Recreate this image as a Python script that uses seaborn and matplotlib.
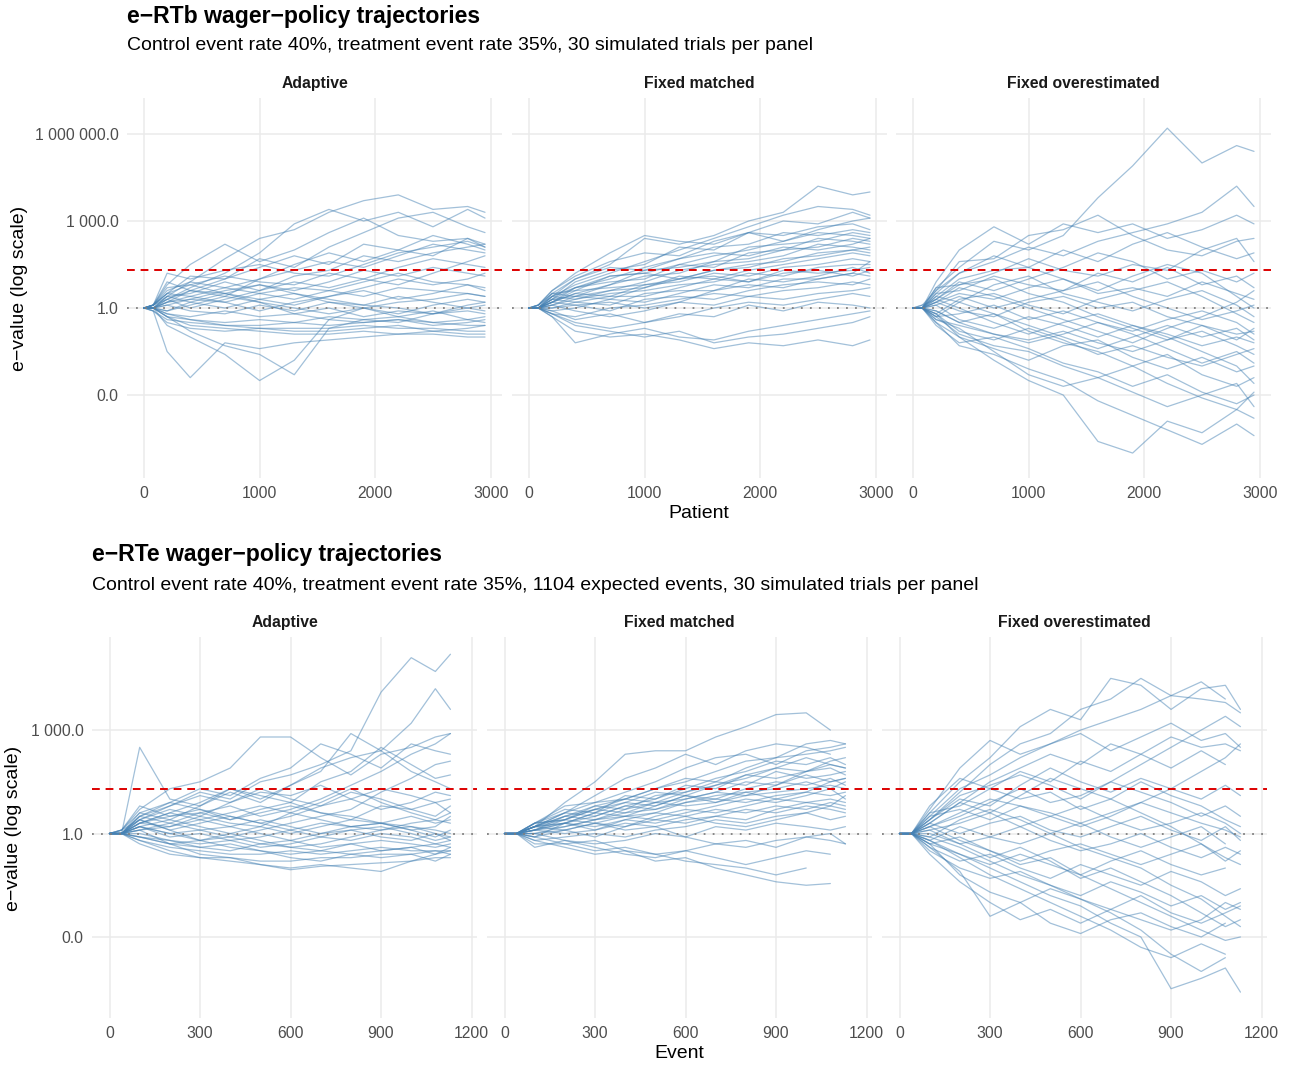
import numpy as np
import pandas as pd
import seaborn as sns
import matplotlib.pyplot as plt
from matplotlib.ticker import FixedLocator, FuncFormatter

nan = float("nan")

patients = [0, 80, 200, 400, 700, 1000, 1300, 1600, 1900, 2200, 2500, 2800, 2950]
events = [0, 40, 100, 200, 300, 400, 500, 600, 700, 800, 900, 1000, 1080, 1130]

panels = ["Adaptive", "Fixed matched", "Fixed overestimated"]

# log10(e-value) per simulated trial, one row per trial
rtb_adaptive = [
    [0, 0, 0.4, 0.9, 1.7, 2.4, 2.7, 3.3, 3.7, 3.9, 3.4, 3.5, 3.3],
    [0, 0, 0.3, 0.7, 1.2, 1.9, 2.9, 3.4, 3.0, 3.3, 2.8, 3.4, 3.1],
    [0, 0.1, 0.8, 1.5, 2.2, 1.6, 2.0, 2.6, 3.1, 2.5, 2.3, 2.4, 2.1],
    [0, 0.1, 0.5, 1.1, 1.0, 1.7, 1.4, 2.1, 2.6, 3.1, 3.3, 2.8, 2.6],
    [0, 0, 0.2, 0.6, 1.0, 1.4, 1.8, 1.5, 2.2, 2.0, 2.5, 2.2, 2.0],
    [0, 0.1, 1.2, 1.0, 1.3, 1.5, 1.2, 1.1, 1.5, 1.9, 2.1, 2.3, 2.1],
    [0, 0.1, 0.6, 0.9, 0.7, 1.0, 1.3, 1.6, 1.4, 1.8, 2.2, 2.0, 1.9],
    [0, 0, 0.4, 0.5, 0.9, 0.6, 1.1, 1.3, 1.8, 1.6, 1.9, 2.1, 2.2],
    [0, 0.1, 0.7, 0.8, 1.1, 0.9, 0.8, 1.2, 1.0, 1.4, 1.7, 1.5, 1.4],
    [0, 0, 0.3, 0.6, 0.5, 0.8, 0.6, 0.9, 1.3, 1.1, 1.4, 1.2, 1.1],
    [0, 0.1, 0.5, 0.4, 0.7, 0.5, 0.7, 0.6, 0.9, 1.2, 0.9, 0.8, 0.7],
    [0, 0, 0.2, 0.3, 0.2, 0.5, 0.3, 0.6, 0.4, 0.7, 0.6, 0.5, 0.4],
    [0, 0.1, 0.4, 0.2, 0.5, 0.3, 0.1, 0.4, 0.6, 0.3, 0.5, 0.8, 0.6],
    [0, 0, -0.1, 0.2, 0.0, 0.3, 0.5, 0.2, 0.1, 0.4, 0.2, 0.0, 0.1],
    [0, 0, 0.1, -0.1, -0.2, 0.1, -0.1, 0.2, 0.0, -0.2, 0.1, 0.3, 0.2],
    [0, 0, -0.2, -0.3, -0.1, -0.3, -0.2, 0.0, -0.3, -0.1, -0.2, -0.1, -0.2],
    [0, 0, -0.3, -0.4, -0.5, -0.4, -0.5, -0.3, -0.4, -0.3, -0.5, -0.4, -0.3],
    [0, -0.1, -0.4, -0.5, -0.6, -0.7, -0.7, -0.7, -0.6, -0.7, -0.7, -0.8, -0.8],
    [0, 0, -0.3, -0.6, -0.7, -0.8, -0.9, -0.9, -0.8, -0.9, -0.9, -1.0, -1.0],
    [0, -0.1, -0.5, -0.7, -0.8, -0.7, -0.8, -0.8, -0.7, -0.6, -0.8, -0.7, -0.6],
    [0, 0, -0.2, -0.4, -0.6, -0.6, -0.5, -0.6, -0.5, -0.4, -0.6, -0.5, -0.4],
    [0, -0.1, -1.5, -2.4, -1.2, -1.4, -1.2, -1.1, -1.0, -0.9, -0.8, -0.9, -0.9],
    [0, 0, -0.6, -1.0, -1.6, -2.5, -1.8, -0.4, 0.0, 0.2, 0.3, 0.5, 0.4],
    [0, 0, -0.3, -0.8, -1.3, -1.6, -2.3, -0.7, -0.4, -0.5, -0.2, 0.1, 0.2],
    [0, 0.1, 0.3, 0.0, 0.3, 0.6, 0.9, 0.7, 1.0, 0.8, 1.2, 1.6, 1.8],
    [0, 0, 0.2, 0.4, 0.2, -0.1, 0.2, 0.4, 0.7, 1.0, 0.8, 1.0, 1.2],
    [0, 0.1, 0.9, 0.6, 0.4, 0.2, 0.0, -0.2, 0.0, -0.3, -0.1, -0.4, -0.5],
    [0, 0, 0.1, 0.3, 0.6, 0.8, 0.5, 0.3, 0.1, 0.0, -0.2, 0.0, -0.1],
    [0, 0, -0.1, 0.1, 0.4, 1.0, 1.5, 1.9, 1.6, 2.0, 1.8, 2.4, 2.2],
    [0, 0.1, 0.5, 0.8, 0.5, 0.2, -0.2, -0.4, -0.5, -0.4, -0.5, -0.6, -0.6],
]

rtb_matched = [
    [0, 0, 0.5, 1.0, 1.5, 2.4, 2.2, 2.5, 3.0, 3.3, 4.2, 3.9, 4.0],
    [0, 0, 0.4, 0.8, 1.2, 1.6, 2.0, 2.4, 2.8, 3.2, 3.5, 3.4, 3.2],
    [0, 0.1, 0.6, 1.1, 1.6, 1.9, 1.8, 2.3, 2.6, 3.0, 2.9, 3.3, 3.1],
    [0, 0, 0.3, 0.9, 1.3, 1.5, 2.1, 2.0, 2.6, 2.5, 2.8, 2.9, 2.7],
    [0, 0, 0.4, 0.7, 1.0, 1.4, 1.7, 2.1, 2.2, 2.6, 2.5, 2.7, 2.6],
    [0, 0.1, 0.5, 0.6, 1.1, 1.2, 1.5, 1.8, 2.0, 2.3, 2.6, 2.5, 2.4],
    [0, 0, 0.2, 0.5, 0.8, 1.3, 1.4, 1.6, 2.1, 2.2, 2.3, 2.6, 2.5],
    [0, 0, 0.3, 0.7, 0.9, 1.0, 1.5, 1.4, 1.9, 2.0, 2.4, 2.3, 2.2],
    [0, 0.1, 0.5, 0.4, 0.8, 1.1, 1.2, 1.6, 1.7, 2.0, 2.1, 2.4, 2.3],
    [0, 0, 0.1, 0.4, 0.6, 0.9, 1.3, 1.5, 1.6, 1.8, 2.2, 2.1, 2.0],
    [0, 0, 0.2, 0.6, 0.7, 0.8, 1.0, 1.3, 1.4, 1.7, 1.8, 2.0, 2.1],
    [0, 0.1, 0.4, 0.3, 0.6, 0.7, 1.1, 1.0, 1.3, 1.5, 1.7, 1.9, 1.8],
    [0, 0, 0.2, 0.5, 0.4, 0.8, 0.9, 1.2, 1.1, 1.4, 1.5, 1.7, 1.6],
    [0, 0, 0.1, 0.3, 0.5, 0.6, 0.8, 0.9, 1.2, 1.1, 1.4, 1.5, 1.5],
    [0, 0, 0.3, 0.2, 0.4, 0.4, 0.7, 1.0, 0.9, 1.3, 1.2, 1.3, 1.4],
    [0, 0, 0.0, 0.2, 0.1, 0.5, 0.6, 0.6, 1.0, 0.9, 1.1, 1.4, 1.2],
    [0, 0, -0.1, 0.0, 0.3, 0.2, 0.5, 0.8, 0.7, 1.0, 1.0, 1.2, 1.1],
    [0, 0, 0.2, 0.1, -0.1, 0.3, 0.4, 0.3, 0.6, 0.8, 0.9, 0.8, 1.0],
    [0, 0, -0.2, -0.3, 0.0, 0.1, 0.3, 0.5, 0.4, 0.6, 0.7, 0.9, 0.8],
    [0, 0, 0.1, -0.1, -0.3, -0.1, 0.2, 0.1, 0.4, 0.3, 0.5, 0.6, 0.7],
    [0, 0, -0.1, -0.4, -0.2, -0.5, -0.3, 0.0, 0.2, 0.1, 0.3, 0.5, 0.4],
    [0, 0, -0.2, -0.5, -0.7, -0.5, -0.2, -0.3, 0.1, -0.1, 0.2, 0.1, 0.0],
    [0, 0, -0.3, -1.2, -0.9, -0.7, -1.0, -1.1, -0.8, -0.6, -0.4, -0.2, -0.1],
    [0, 0, -0.3, -0.8, -1.0, -0.9, -1.1, -1.4, -1.2, -1.3, -1.1, -1.3, -1.1],
    [0, 0, -0.2, -0.6, -0.8, -1.0, -0.8, -1.2, -1.0, -0.9, -0.7, -0.5, -0.3],
    [0, 0.1, 0.6, 1.2, 1.9, 2.5, 2.3, 2.2, 2.6, 2.3, 2.7, 3.0, 3.1],
    [0, 0, 0.4, 1.0, 1.4, 1.3, 1.7, 1.9, 1.8, 2.1, 2.0, 2.2, 2.4],
    [0, 0, 0.2, 0.7, 1.1, 1.2, 1.0, 1.3, 1.5, 1.6, 1.9, 2.0, 1.9],
    [0, 0, 0.3, 0.4, 0.3, 0.7, 1.0, 1.1, 0.9, 1.2, 1.3, 1.1, 1.3],
    [0, 0, 0.0, 0.1, 0.2, 0.0, 0.2, 0.6, 0.8, 0.7, 1.0, 1.2, 1.6],
]

rtb_over = [
    [0, 0, 0.7, 1.4, 2.3, 2.0, 2.5, 3.8, 4.9, 6.2, 5.0, 5.6, 5.4],
    [0, 0, 0.5, 1.2, 1.6, 2.1, 1.8, 2.3, 2.6, 2.9, 3.3, 4.2, 3.5],
    [0, 0, 0.9, 2.0, 2.8, 2.2, 2.9, 2.6, 2.9, 2.4, 2.7, 3.2, 2.9],
    [0, 0.1, 0.6, 1.6, 1.7, 2.5, 2.7, 3.2, 2.5, 2.0, 1.8, 2.3, 2.4],
    [0, 0, 0.4, 1.0, 1.3, 1.4, 2.0, 1.6, 2.2, 2.6, 2.1, 1.7, 1.9],
    [0, 0, 0.7, 0.8, 1.2, 1.7, 1.3, 1.1, 1.5, 1.3, 2.0, 2.4, 1.6],
    [0, 0.1, 0.3, 0.9, 0.6, 1.0, 1.4, 1.9, 1.6, 1.0, 1.3, 0.9, 1.2],
    [0, 0, 0.5, 0.6, 1.1, 0.8, 0.6, 1.2, 0.9, 1.4, 0.8, 1.1, 0.7],
    [0, 0, 0.2, 0.5, 0.3, 0.7, 1.0, 0.5, 0.7, 0.4, 0.9, 0.5, 0.3],
    [0, 0, 0.4, 0.2, 0.8, 1.1, 0.5, 0.2, -0.1, 0.3, 0.6, 0.1, -0.3],
    [0, 0, 0.1, 0.4, 0.0, 0.3, 0.6, 0.9, 0.4, 0.0, -0.4, -0.1, 0.1],
    [0, 0, -0.2, 0.3, 0.5, 0.1, -0.2, 0.3, 0.6, 0.9, 0.4, -0.2, -0.5],
    [0, 0, 0.2, -0.1, -0.3, 0.2, 0.4, 0.0, 0.2, -0.3, -0.6, -0.9, -0.8],
    [0, 0, -0.3, -0.2, 0.1, -0.4, -0.1, -0.5, -0.8, -0.4, -0.1, -0.5, -0.9],
    [0, 0, 0.1, -0.4, -0.7, -0.3, -0.6, -1.0, -0.6, -0.9, -1.3, -1.0, -1.2],
    [0, 0, -0.4, -0.6, -0.9, -1.1, -0.8, -1.2, -1.5, -1.1, -0.8, -1.3, -1.6],
    [0, 0, -0.2, -0.8, -1.1, -0.7, -1.1, -1.6, -1.3, -1.7, -2.0, -1.6, -1.4],
    [0, 0, -0.5, -1.0, -1.4, -1.8, -1.3, -1.1, -1.7, -2.1, -1.7, -2.2, -2.0],
    [0, 0, -0.3, -0.9, -1.3, -1.5, -2.0, -2.4, -2.0, -1.6, -2.3, -2.7, -2.4],
    [0, 0, -0.6, -1.2, -1.0, -1.4, -1.9, -2.2, -2.7, -2.3, -2.9, -3.3, -3.0],
    [0, 0, -0.4, -0.7, -1.5, -2.3, -2.7, -2.4, -2.9, -3.4, -3.0, -2.6, -3.4],
    [0, 0, -0.2, -1.0, -1.8, -2.5, -3.0, -4.6, -5.0, -3.9, -4.3, -3.5, -3.8],
    [0, 0, -0.5, -1.3, -1.6, -2.1, -2.5, -3.2, -3.7, -4.2, -4.7, -4.0, -4.4],
    [0, 0, -0.1, -0.5, -0.2, -0.8, -1.2, -1.5, -2.0, -2.6, -3.1, -3.5, -2.9],
    [0, 0, 0.3, 0.0, -0.5, -0.9, -0.5, -0.2, -0.6, -1.0, -1.5, -2.0, -2.6],
    [0, 0, 0.6, 1.2, 1.8, 1.4, 1.0, 0.6, 1.1, 1.5, 1.2, 0.4, 0.0],
    [0, 0, 0.2, 0.7, 0.4, 0.0, -0.4, -0.8, -1.2, -0.7, -0.3, 0.2, 0.6],
    [0, 0, -0.1, -0.5, -0.9, -1.2, -0.9, -0.5, -0.9, -1.4, -1.9, -1.5, -1.9],
    [0, 0, 0.3, 0.8, 1.0, 0.5, 0.2, -0.3, -0.7, -1.1, -0.6, -1.1, -0.7],
    [0, 0, -0.3, 0.2, -0.2, -0.6, -1.0, -1.4, -1.0, -0.6, -1.0, -0.7, -1.1],
]

rte_adaptive = [
    [0, 0, 0.4, 0.8, 1.2, 1.0, 1.5, 1.7, 2.0, 2.4, 4.1, 5.1, 4.7, 5.2],
    [0, 0, 0.3, 0.6, 0.9, 1.3, 1.0, 1.4, 1.9, 2.2, 2.4, 3.2, 4.2, 3.6],
    [0, 0.1, 0.7, 1.3, 1.5, 1.9, 2.8, 2.8, 2.2, 1.7, 2.3, 2.5, 2.8, 2.9],
    [0, 0, 2.5, 1.0, 0.8, 1.2, 0.9, 1.4, 1.8, 2.9, 2.4, 1.8, 1.5, 1.3],
    [0, 0, 0.5, 0.9, 1.3, 1.1, 1.6, 1.9, 2.6, 2.3, 1.9, 2.6, 2.4, 2.3],
    [0, 0.1, 0.6, 0.4, 0.8, 1.3, 1.1, 0.9, 1.5, 1.8, 2.5, 2.0, 1.6, 1.7],
    [0, 0, 0.4, 0.7, 0.5, 0.9, 1.3, 1.0, 0.8, 1.2, 1.0, 0.7, 0.9, 0.6],
    [0, 0.1, 0.8, 0.5, 0.6, 0.4, 0.7, 0.9, 0.6, 0.4, 0.3, 0.5, 0.3, 0.4],
    [0, 0, 0.3, 0.2, 0.5, 0.3, 0.2, 0.6, 0.4, 0.2, 0.1, 0.2, 0.1, 0.0],
    [0, 0, 0.5, 0.3, 0.1, 0.2, 0.4, 0.2, 0.0, 0.2, 0.3, 0.1, -0.1, 0.1],
    [0, 0, 0.2, -0.1, 0.0, -0.2, -0.1, 0.1, 0.3, 0.2, 0.3, 0.1, 0.2, 0.5],
    [0, 0, -0.1, -0.2, -0.3, -0.2, -0.4, -0.3, -0.1, 0.1, 0.2, 0.0, -0.2, -0.1],
    [0, 0, 0.1, -0.3, -0.4, -0.5, -0.3, -0.4, -0.5, -0.3, -0.2, -0.3, -0.4, -0.3],
    [0, 0, -0.2, -0.4, -0.5, -0.6, -0.6, -0.5, -0.6, -0.5, -0.4, -0.5, -0.5, -0.5],
    [0, 0, -0.2, -0.5, -0.7, -0.7, -0.8, -0.8, -0.7, -0.7, -0.6, -0.6, -0.5, -0.6],
    [0, 0, -0.3, -0.6, -0.7, -0.8, -0.9, -1.0, -0.9, -1.0, -1.1, -0.8, -0.6, -0.4],
    [0, 0, -0.1, -0.3, -0.6, -0.7, -0.9, -1.05, -0.95, -0.9, -0.85, -0.8, -0.7, -0.7],
    [0, 0, 0.2, 0.0, -0.2, -0.4, -0.5, -0.6, -0.5, -0.6, -0.5, -0.4, -0.3, -0.2],
    [0, 0.1, 0.4, 0.1, 0.3, 0.5, 0.3, 0.5, 0.8, 1.0, 0.7, 0.9, 1.2, 1.1],
    [0, 0, 0.3, 0.5, 0.7, 0.4, 0.6, 0.8, 0.6, 0.5, 0.3, 0.2, 0.0, -0.2],
    [0, 0, 0.1, 0.2, 0.4, 0.6, 0.8, 0.6, 0.9, 1.3, 0.9, 0.6, 0.4, 0.3],
    [0, 0, 0.6, 0.9, 0.7, 0.5, 0.3, 0.1, -0.1, -0.2, 0.0, -0.1, -0.3, -0.4],
    [0, 0, 0.4, 0.1, -0.2, -0.1, 0.1, 0.3, 0.5, 0.7, 1.2, 1.6, 2.0, 2.1],
    [0, 0, -0.1, -0.3, -0.2, 0.0, 0.2, 0.0, 0.2, 0.4, 0.8, 0.7, 0.5, 0.8],
    [0, 0, 0.2, 0.0, 0.1, -0.1, -0.3, -0.2, 0.0, 0.1, -0.1, -0.2, 0.0, -0.1],
    [0, 0, 0.3, 0.6, 0.4, 0.2, 0.0, -0.2, -0.4, -0.3, -0.5, -0.4, -0.6, -0.5],
    [0, 0, 0.5, 0.8, 1.1, 0.9, 1.2, 1.1, 1.4, 1.0, 1.3, 1.1, 0.9, 1.0],
    [0, 0, 0.1, 0.3, 0.6, 0.8, 0.5, 0.7, 1.0, 1.4, 1.8, 2.3, 2.6, 2.9],
    [0, 0, 0.2, 0.4, 0.2, 0.0, -0.2, -0.4, -0.3, -0.1, 0.1, 0.3, 0.4, 0.6],
    [0, 0, 0.0, -0.2, -0.4, -0.3, -0.5, -0.7, -0.8, -0.6, -0.7, -0.6, -0.8, -0.6],
]

rte_matched = [
    [0, 0, 0.2, 0.9, 1.5, 2.3, 2.4, 2.4, 2.8, 3.1, 3.45, 3.5, 3.0, nan],
    [0, 0, 0.3, 0.6, 0.9, 1.2, 1.5, 1.9, 2.2, 2.3, 2.0, 2.4, 2.5, 2.6],
    [0, 0, 0.2, 0.5, 0.8, 1.0, 1.3, 1.5, 1.8, 2.1, 2.2, 2.3, 2.4, 2.5],
    [0, 0, 0.3, 0.7, 0.6, 1.1, 1.0, 1.3, 1.6, 1.8, 2.1, 2.0, 2.2, 2.0],
    [0, 0, 0.1, 0.4, 0.7, 0.9, 1.2, 1.1, 1.4, 1.6, 1.9, 2.2, 2.0, 1.9],
    [0, 0, 0.2, 0.6, 0.5, 0.8, 1.0, 1.4, 1.3, 1.7, 1.6, 1.8, 1.9, 1.7],
    [0, 0, 0.3, 0.4, 0.8, 0.7, 1.1, 1.2, 1.5, 1.4, 1.8, 1.6, 1.7, 1.8],
    [0, 0, 0.1, 0.5, 0.4, 0.6, 0.9, 1.0, 1.2, 1.5, 1.4, 1.7, 1.5, 1.6],
    [0, 0, 0.2, 0.3, 0.6, 0.9, 0.8, 1.1, 1.0, 1.3, 1.5, 1.4, 1.6, 1.4],
    [0, 0, 0.2, 0.5, 0.7, 0.6, 0.7, 0.9, 1.1, 1.2, 1.3, 1.5, 1.3, 1.5],
    [0, 0, 0.1, 0.2, 0.4, 0.7, 0.9, 0.8, 0.9, 1.1, 1.2, 1.3, 1.4, 1.3],
    [0, 0, 0.3, 0.4, 0.3, 0.5, 0.6, 0.9, 1.0, 0.9, 1.1, 1.2, 1.1, 1.2],
    [0, 0, 0.0, 0.2, 0.4, 0.5, 0.4, 0.6, 0.8, 1.0, 0.9, 1.1, 1.3, 1.0],
    [0, 0, 0.2, 0.1, 0.3, 0.2, 0.5, 0.7, 0.6, 0.8, 1.0, 0.9, 1.0, 0.9],
    [0, 0, -0.1, 0.3, 0.2, 0.4, 0.3, 0.5, 0.7, 0.6, 0.8, 0.7, 0.9, 0.8],
    [0, 0, 0.1, 0.0, 0.1, 0.3, 0.2, 0.4, 0.5, 0.7, 0.6, 0.8, 0.7, 0.6],
    [0, 0, -0.2, -0.1, 0.0, -0.1, 0.1, 0.2, 0.4, 0.3, 0.5, 0.6, 0.4, 0.5],
    [0, 0, 0.0, -0.2, -0.3, -0.2, 0.0, -0.1, 0.2, 0.1, 0.3, 0.2, 0.1, 0.2],
    [0, 0, -0.3, -0.3, -0.5, -0.4, -0.6, -0.5, -0.3, -0.4, -0.2, -0.1, -0.2, -0.3],
    [0, 0, -0.4, -0.2, -0.4, -0.6, -0.7, -0.5, -0.7, -0.9, -0.7, -0.5, -0.6, nan],
    [0, 0, -0.2, -0.4, -0.6, -0.5, -0.8, -0.7, -1.0, -1.2, -1.4, -1.5, -1.45, nan],
    [0, 0, -0.1, -0.3, -0.2, -0.5, -0.6, -0.8, -0.9, -1.0, -1.2, -1.0, nan, nan],
    [0, 0, 0.2, 0.6, 1.1, 1.6, 1.9, 2.3, 2.0, 2.4, 2.6, 2.5, 2.3, nan],
    [0, 0, 0.3, 0.8, 0.9, 1.0, 1.3, 1.6, 1.5, 1.9, 2.2, 2.6, 2.7, 2.6],
    [0, 0, 0.1, 0.3, 0.5, 0.8, 0.7, 1.0, 1.2, 1.1, 1.4, 1.8, 2.0, 1.9],
    [0, 0, 0.2, 0.3, 0.1, 0.4, 0.6, 0.5, 0.3, 0.2, 0.4, 0.6, 0.8, 1.1],
    [0, 0, -0.1, 0.1, 0.3, 0.1, 0.2, -0.1, -0.3, -0.2, -0.4, -0.1, 0.0, -0.3],
    [0, 0, 0.1, 0.3, 0.6, 0.5, 0.8, 1.1, 0.9, 1.2, 1.0, 1.2, 1.5, 1.6],
    [0, 0, 0.2, 0.4, 0.7, 1.0, 0.9, 1.2, 1.4, 1.7, 1.9, 1.8, 2.1, 2.2],
    [0, 0, 0.0, 0.1, -0.1, 0.2, 0.4, 0.3, 0.5, 0.4, 0.7, 0.9, 0.8, 0.7],
]

rte_over = [
    [0, 0, 0.6, 1.5, 2.2, 3.1, 3.6, 3.3, 4.5, 4.3, 3.6, 4.2, 4.3, 3.6],
    [0, 0, 0.4, 1.2, 2.0, 2.6, 2.9, 3.6, 3.9, 4.5, 4.0, 3.9, 3.8, 3.5],
    [0, 0, 0.7, 1.9, 2.7, 2.3, 2.6, 3.0, 3.3, 3.6, 4.0, 4.4, 3.9, nan],
    [0, 0, 0.5, 1.3, 1.7, 2.2, 2.6, 2.9, 2.4, 2.8, 3.2, 2.7, 2.9, 2.5],
    [0, 0, 0.3, 0.9, 1.5, 1.9, 2.3, 2.0, 2.6, 2.3, 2.8, 2.5, 2.6, 2.4],
    [0, 0, 0.8, 1.6, 1.3, 1.8, 1.5, 2.1, 1.8, 2.3, 1.9, 2.4, 2.0, nan],
    [0, 0, 0.4, 1.0, 0.8, 1.4, 1.9, 1.5, 1.2, 1.6, 1.3, 1.0, 1.4, 1.1],
    [0, 0, 0.6, 0.8, 1.3, 1.0, 1.2, 0.7, 1.0, 1.5, 1.1, 0.8, 0.4, 0.2],
    [0, 0, 0.2, 0.5, 0.9, 1.3, 0.9, 1.1, 1.5, 1.2, 0.9, 0.5, 0.8, 0.5],
    [0, 0, 0.5, 0.7, 0.4, 0.8, 0.6, 0.3, 0.6, 0.9, 0.6, 0.3, 0.1, -0.1],
    [0, 0, 0.1, 0.3, 0.6, 0.2, 0.5, 0.8, 0.4, 0.1, 0.3, 0.6, 0.3, 0.0],
    [0, 0, 0.3, 0.0, 0.3, 0.5, 0.1, -0.1, 0.2, 0.5, 0.1, -0.2, 0.2, -0.2],
    [0, 0, -0.2, 0.2, -0.1, -0.3, 0.0, 0.3, -0.1, -0.4, -0.1, 0.2, -0.3, nan],
    [0, 0, 0.0, -0.3, -0.1, 0.2, -0.2, -0.5, -0.3, 0.0, -0.4, -0.7, -0.4, -0.6],
    [0, 0, -0.3, -0.1, -0.5, -0.8, -0.5, -0.3, -0.6, -0.9, -0.6, -0.3, -0.7, -0.9],
    [0, 0, -0.2, -0.6, -0.9, -0.6, -0.9, -1.2, -0.8, -0.5, -0.9, -1.2, -1.0, nan],
    [0, 0, -0.4, -0.8, -0.6, -1.0, -1.3, -0.9, -1.2, -1.5, -1.1, -1.4, -1.8, -1.6],
    [0, 0, -0.5, -1.0, -1.3, -1.1, -1.5, -1.8, -1.4, -1.7, -2.1, -1.8, -2.2, -2.0],
    [0, 0, -0.3, -1.2, -1.7, -2.0, -1.6, -1.9, -2.2, -1.8, -2.3, -2.6, -2.3, -2.1],
    [0, 0, -0.6, -1.4, -2.0, -2.5, -2.2, -2.6, -2.2, -2.5, -2.8, -2.5, -2.0, -2.2],
    [0, 0, -0.4, -1.1, -2.4, -2.0, -2.6, -2.9, -2.5, -2.3, -2.7, -3.0, -2.6, nan],
    [0, 0, -0.2, -0.7, -1.2, -1.6, -2.0, -2.4, -2.8, -3.3, -3.6, -3.2, -3.5, nan],
    [0, 0, -0.3, -0.6, -1.0, -1.4, -1.8, -2.1, -2.6, -3.0, -4.5, -4.2, -3.9, -4.6],
    [0, 0, -0.1, -0.4, -0.8, -1.2, -1.5, -1.9, -2.3, -2.8, -3.5, -4.0, -3.6, nan],
    [0, 0, 0.2, -0.2, -0.5, -0.9, -0.7, -1.2, -1.6, -2.0, -2.4, -2.8, -3.1, -3.0],
    [0, 0, 0.2, 0.6, 1.0, 0.8, 0.5, 0.2, 0.5, 0.9, 1.3, 1.8, 2.2, 2.6],
    [0, 0, 0.4, 1.1, 1.4, 1.7, 1.4, 1.0, 1.5, 2.0, 2.5, 3.0, 3.4, 3.1],
    [0, 0, -0.1, 0.4, 0.7, 0.4, 0.0, -0.4, -0.7, -1.0, -1.5, -1.9, -2.4, -2.7],
    [0, 0, 0.1, -0.3, -0.7, -0.4, -0.8, -1.3, -1.0, -1.4, -1.8, -2.3, -2.7, -2.5],
    [0, 0, 0.3, 0.9, 0.6, 1.1, 1.6, 1.3, 1.0, 0.6, 0.2, -0.3, -0.8, -0.5],
]


def to_long(xs, rows):
    recs = []
    for i, row in enumerate(rows):
        for x, v in zip(xs, row):
            if v == v:
                recs.append((i, x, 10 ** v))
    return pd.DataFrame(recs, columns=["trial", "x", "evalue"])


def fmt_e(v, pos):
    return f"{v:,.1f}".replace(",", " ")


sns.set_theme(style="white")
plt.rcParams["font.family"] = ["Liberation Sans", "DejaVu Sans"]
plt.rcParams["text.color"] = "black"

W, H = 1291, 1065
fig = plt.figure(figsize=(W / 100, H / 100), dpi=100)


def px_axes(left, top, width, bottom):
    return fig.add_axes([left / W, 1 - bottom / H, width / W, (bottom - top) / H])


def draw_row(lefts, width, top, bottom, xs, datasets, xlim, ylog, xticks, yticks):
    axes = []
    for k, (left, rows, name) in enumerate(zip(lefts, datasets, panels)):
        ax = px_axes(left, top, width, bottom)
        df = to_long(xs, rows)
        sns.lineplot(data=df, x="x", y="evalue", units="trial", estimator=None,
                     color="#4682B4", alpha=0.5, linewidth=0.9, ax=ax, zorder=2)
        ax.axhline(20, color="#DD0000", ls=(0, (4, 3)), lw=1.4, zorder=4)
        ax.axhline(1, color="#7F7F7F", ls=(0, (1, 4)), lw=1.3, zorder=3)
        ax.set_yscale("log")
        ax.set_xlim(*xlim)
        ax.set_ylim(10 ** ylog[0], 10 ** ylog[1])
        ax.xaxis.set_major_locator(FixedLocator(xticks))
        ax.yaxis.set_major_locator(FixedLocator(yticks))
        ax.yaxis.set_minor_locator(FixedLocator([]))
        ax.yaxis.set_major_formatter(FuncFormatter(fmt_e))
        ax.grid(True, which="major", color="#EBEBEB", lw=1.1, zorder=0)
        ax.set_axisbelow(True)
        for s in ax.spines.values():
            s.set_visible(False)
        ax.tick_params(length=0, labelsize=11.3, labelcolor="#4D4D4D")
        ax.tick_params(axis="x", pad=6.0)
        ax.tick_params(axis="y", pad=6.0)
        if k > 0:
            ax.set_yticklabels([])
        ax.set_xlabel("")
        ax.set_ylabel("")
        ax.set_title(name, fontsize=11.3, fontweight="bold", color="#1A1A1A", pad=7)
        axes.append(ax)
    return axes


top_axes = draw_row([127, 512, 896], 375, 98, 478, patients,
                    [rtb_adaptive, rtb_matched, rtb_over], (-147, 3097),
                    (-5.86, 7.24), [0, 1000, 2000, 3000], [1e-3, 1, 1e3, 1e6])
bot_axes = draw_row([92, 487, 882], 385, 637, 1018, events,
                    [rte_adaptive, rte_matched, rte_over], (-58, 1218),
                    (-5.35, 5.70), [0, 300, 600, 900, 1200], [1e-3, 1, 1e3])

# titles, subtitles and shared axis labels
fig.text(127 / W, 1 - 17 / H, "e\u2212RTb wager\u2212policy trajectories",
         fontsize=16.6, fontweight="bold", va="center", ha="left")
fig.text(127 / W, 1 - 46 / H,
         "Control event rate 40%, treatment event rate 35%, 30 simulated trials per panel",
         fontsize=14, va="center", ha="left")
fig.text(699 / W, 1 - 514 / H, "Patient", fontsize=14, va="center", ha="center")
fig.text(20 / W, 1 - 288 / H, "e\u2212value (log scale)", fontsize=14,
         va="center", ha="center", rotation=90)

fig.text(92 / W, 1 - 555 / H, "e\u2212RTe wager\u2212policy trajectories",
         fontsize=16.6, fontweight="bold", va="center", ha="left")
fig.text(92 / W, 1 - 585 / H,
         "Control event rate 40%, treatment event rate 35%, 1104 expected events, 30 simulated trials per panel",
         fontsize=14, va="center", ha="left")
fig.text(679 / W, 1 - 1053 / H, "Event", fontsize=14, va="center", ha="center")
fig.text(14 / W, 1 - 828 / H, "e\u2212value (log scale)", fontsize=14,
         va="center", ha="center", rotation=90)

fig.savefig("out.png", dpi=100, facecolor="white")
